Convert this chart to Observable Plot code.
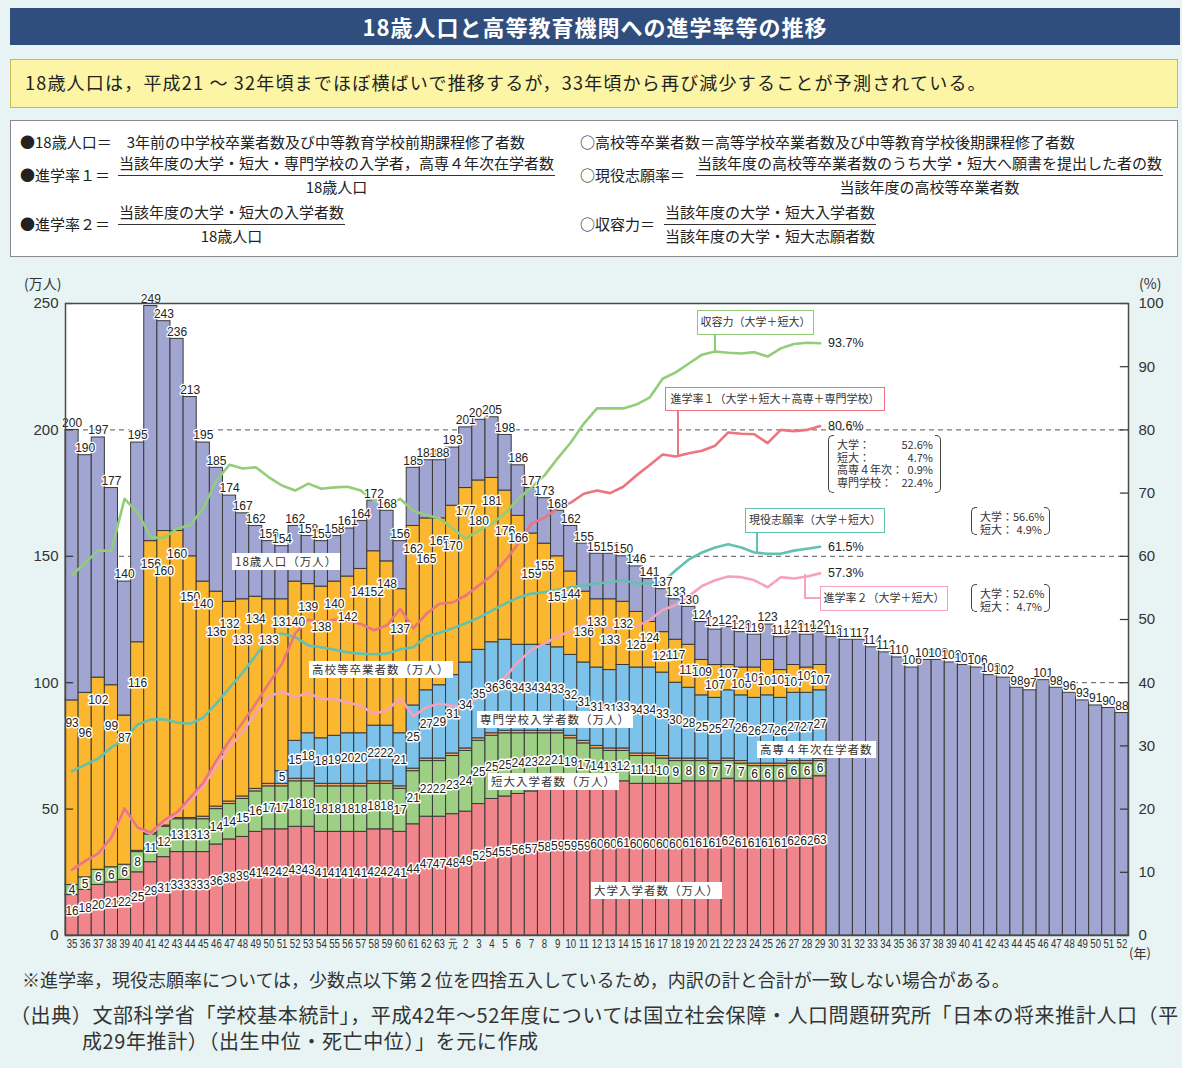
<!DOCTYPE html>
<html lang="ja"><head><meta charset="utf-8">
<script src="https://cdn.jsdelivr.net/npm/d3@7"></script>
<script src="https://cdn.jsdelivr.net/npm/@observablehq/plot@0.6"></script>
<style>
*{box-sizing:border-box}
html,body{margin:0;padding:0}
body{width:1182px;height:1068px;background:#e7f4f3;position:relative;overflow:hidden;font-family:"Noto Sans CJK JP","Noto Sans",sans-serif;color:#222}
.abs{position:absolute}
#title{left:10px;top:8px;width:1170px;height:37px;background:#2f4e7e;color:#fff;font-weight:bold;font-size:22px;text-align:center;line-height:37px;letter-spacing:1px}
#lead{left:10px;top:59px;width:1168px;height:49px;background:#fcf5a5;border:1.5px solid #c9b75a;font-size:18px;line-height:45px;padding-left:14px;letter-spacing:1.2px}
#defs{left:10px;top:120px;width:1168px;height:137px;background:#fff;border:1px solid #8a8a8a}
.d{position:absolute;font-size:15px;white-space:nowrap;line-height:20px}
.frac{position:absolute;display:flex;flex-direction:column;align-items:center;font-size:15px;white-space:nowrap;line-height:20px}
.frac .n{border-bottom:1px solid #333;padding:0 1px 2px}
.frac .m{padding-top:1px}
#chart{left:0;top:262px}
.box{position:absolute;background:#fff;border:1.6px solid;font-size:11px;text-align:center;line-height:21px;white-space:nowrap;color:#333}
.vl{position:absolute;width:1.6px}
.hl{position:absolute;height:1.6px}
.slab{position:absolute;background:#fff;font-size:11.5px;padding:0 3px;line-height:17px;letter-spacing:1px;white-space:nowrap;color:#333}
.brk{position:absolute;font-size:11px;line-height:12.5px;color:#333;padding:3px 8px 2px 9px}
.brk .l,.brk .r{position:absolute;top:0;bottom:0;width:6px;border:1.2px solid #444}
.brk .l{left:0;border-right:none;border-radius:5px 0 0 5px}
.brk .r{right:0;border-left:none;border-radius:0 5px 5px 0}
.brk .row{display:flex;justify-content:space-between;white-space:nowrap}
.ax{position:absolute;font-size:14px;color:#333;white-space:nowrap}
.foot{position:absolute;white-space:nowrap;color:#333}
</style></head>
<body>
<div id="title" class="abs">18歳人口と高等教育機関への進学率等の推移</div>
<div id="lead" class="abs">18歳人口は，平成21 ～ 32年頃までほぼ横ばいで推移するが，33年頃から再び減少することが予測されている。</div>
<div id="defs" class="abs"></div>
<div class="d" style="left:20px;top:132px">●18歳人口＝　3年前の中学校卒業者数及び中等教育学校前期課程修了者数</div>
<div class="d" style="left:580px;top:132px">○高校等卒業者数＝高等学校卒業者数及び中等教育学校後期課程修了者数</div>
<div class="d" style="left:20px;top:165px">●進学率１＝</div>
<div class="frac" style="left:118px;top:153px"><div class="n">当該年度の大学・短大・専門学校の入学者，高専４年次在学者数</div><div class="m">18歳人口</div></div>
<div class="d" style="left:580px;top:165px">○現役志願率＝</div>
<div class="frac" style="left:696px;top:153px"><div class="n">当該年度の高校等卒業者数のうち大学・短大へ願書を提出した者の数</div><div class="m">当該年度の高校等卒業者数</div></div>
<div class="d" style="left:20px;top:214px">●進学率２＝</div>
<div class="frac" style="left:118px;top:202px"><div class="n">当該年度の大学・短大の入学者数</div><div class="m">18歳人口</div></div>
<div class="d" style="left:580px;top:214px">○収容力＝</div>
<div class="frac" style="left:664px;top:202px"><div class="n">当該年度の大学・短大入学者数</div><div class="m">当該年度の大学・短大志願者数</div></div>

<div id="chart" class="abs"></div>

<div class="ax" style="left:24px;top:273px">(万人)</div>
<div class="ax" style="left:1139px;top:273px">(%)</div>
<div class="ax" style="left:1129px;top:943px;font-size:13px">(年)</div>

<div class="slab" style="left:232px;top:553px">18歳人口（万人）</div>
<div class="slab" style="left:309px;top:661px">高校等卒業者数（万人）</div>
<div class="slab" style="left:477px;top:711px">専門学校入学者数（万人）</div>
<div class="slab" style="left:488px;top:773px">短大入学者数（万人）</div>
<div class="slab" style="left:757px;top:741px">高専４年次在学者数</div>
<div class="slab" style="left:591px;top:882px">大学入学者数（万人）</div>

<div class="box" style="left:697px;top:310px;width:117px;height:25px;border-color:#8fcb77">収容力（大学＋短大）</div>
<div class="vl" style="left:714px;top:335px;height:16px;background:#8fcb77"></div>
<div class="box" style="left:665px;top:387px;width:220px;height:24px;border-color:#ec7580">進学率１（大学＋短大＋高専＋専門学校）</div>
<div class="vl" style="left:677px;top:411px;height:44px;background:#ec7580"></div>
<div class="brk" style="left:828px;top:435px;width:113px;height:58px"><div class="l"></div><div class="r"></div>
<div class="row"><span>大学：</span><span>52.6%</span></div>
<div class="row"><span>短大：</span><span>4.7%</span></div>
<div class="row"><span>高専４年次：</span><span>0.9%</span></div>
<div class="row"><span>専門学校：</span><span>22.4%</span></div></div>
<div class="box" style="left:745px;top:508px;width:140px;height:25px;border-color:#63c1ae">現役志願率（大学＋短大）</div>
<div class="vl" style="left:756px;top:533px;height:19px;background:#63c1ae"></div>
<div class="brk" style="left:971px;top:507px;width:79px;height:28px"><div class="l"></div><div class="r"></div>
<div class="row"><span>大学：</span><span>56.6%</span></div>
<div class="row"><span>短大：</span><span>4.9%</span></div></div>
<div class="box" style="left:820px;top:586px;width:128px;height:25px;border-color:#f5a3bb">進学率２（大学＋短大）</div>
<div class="vl" style="left:804px;top:574px;height:24px;background:#f5a3bb"></div>
<div class="hl" style="left:804px;top:597px;width:17px;background:#f5a3bb"></div>
<div class="brk" style="left:971px;top:584px;width:79px;height:28px"><div class="l"></div><div class="r"></div>
<div class="row"><span>大学：</span><span>52.6%</span></div>
<div class="row"><span>短大：</span><span>4.7%</span></div></div>

<div class="foot" style="left:22px;top:966px;font-size:18px">※進学率，現役志願率については，少数点以下第２位を四捨五入しているため，内訳の計と合計が一致しない場合がある。</div>
<div class="foot" style="left:10px;top:1000px;font-size:20px;letter-spacing:0.6px">（出典）文部科学省「学校基本統計」，平成42年～52年度については国立社会保障・人口問題研究所「日本の将来推計人口（平</div>
<div class="foot" style="left:82px;top:1026px;font-size:20px;letter-spacing:0.6px">成29年推計）（出生中位・死亡中位）」を元に作成</div>

<script>
// ---- tick labels (years: 昭和35–63, 平成元–29, 推計 30–52) ----
const xLabels = ["35","36","37","38","39","40","41","42","43","44","45","46","47","48","49","50","51","52","53","54","55","56","57","58","59","60","61","62","63","元","2","3","4","5","6","7","8","9","10","11","12","13","14","15","16","17","18","19","20","21","22","23","24","25","26","27","28","29","30","31","32","33","34","35","36","37","38","39","40","41","42","43","44","45","46","47","48","49","50","51","52"];
const leftTicks = [0,50,100,150,200,250];
const rightTicks = [0,10,20,30,40,50,60,70,80,90,100];
const gridLines = [50,100,150,200];

// ---- 18歳人口（万人） ----
const pop18 = [200,190,197,177,140,195,249,243,236,213,195,185,174,167,162,156,154,162,158,156,158,161,164,172,168,156,185,188,188,
193,201,204,205,198,186,177,173,168,162,155,151,151,150,146,141,137,133,130,124,121,122,120,119,123,118,120,119,120,
118,117,117,114,112,110,106,109,109,108,107,106,103,102,98,97,101,98,96,93,91,90,88];
// ---- 高校等卒業者数（万人） ----
const grads = [93,96,102,99,87,116,156,160,160,150,140,136,132,133,134,133,133,140,139,138,140,142,145,152,148,137,162,165,165,
170,177,180,181,176,166,159,155,150,144,136,133,133,132,128,124,120,117,115,109,107,107,106,106,109,105,107,106,107];
// ---- 大学入学者数（万人） ----
const univ = [16,18,20,21,22,25,29,31,33,33,33,36,38,39,41,42,42,43,43,41,41,41,41,42,42,41,44,47,47,
48,49,52,54,55,56,57,58,59,59,59,60,60,61,60,60,60,60,61,61,61,62,61,61,61,61,62,62,63];
// ---- 短大入学者数（万人） ----
const juniorCollege = [4,5,6,6,6,8,11,12,13,13,13,14,14,15,16,17,17,18,18,18,18,18,18,18,18,17,21,22,22,
23,24,25,25,25,24,23,22,21,19,17,14,13,12,11,11,10,9,8,8,7,7,7,6,6,6,6,6,6];
// ---- 高専4年次在学者数（万人, 推定） ----
const kosen4 = [0,0,0,0,0,0.5,0.5,0.5,0.5,0.5,1,1,1,1,1,1,1,1,1,1,1,1,1,1,1,1,1,1,1,
1,1,1,1,1,1,1,1,1,1,1,1,1,1,1,1,1,1,1,1,1,1,1,1,1,1,1,1,1];
// ---- 専門学校入学者数（万人） ----
const senmon = [0,0,0,0,0,0,0,0,0,0,0,0,0,0,0,0,5,15,18,18,19,20,20,22,22,21,25,27,29,
31,34,35,36,36,34,34,34,33,32,31,31,31,33,34,34,33,30,28,25,25,27,26,26,27,26,27,27,27];
// ---- 率（%） ----
const rateCapacity = [57.0,59.0,60.9,60.9,69.1,66.9,63.0,62.9,64.4,64.9,67.6,72.0,74.5,73.9,74.1,72.5,71.2,70.4,71.5,70.7,70.9,71.0,70.4,68.8,68.0,69.1,67.2,66.5,66.0,
64.4,62.8,64.1,65.2,66.8,69.1,70.9,72.8,75.5,78.0,81.0,83.4,83.4,83.4,84.0,85.1,88.1,89.1,90.5,91.9,92.4,92.2,92.1,92.3,91.6,92.9,93.6,93.8,93.7];
const rate1 = [10.4,11.8,13.0,15.5,20.1,17.1,16.3,18.2,19.5,21.8,24.2,27.7,30.9,33.7,36.7,39.9,43.0,47.8,50.0,49.5,50.0,49.8,49.3,48.3,49.1,51.7,48.6,50.9,52.5,
52.7,53.8,55.4,57.0,59.3,62.0,65.2,66.1,67.6,68.5,69.9,70.4,70.0,71.0,72.8,74.4,76.1,75.8,76.3,76.7,77.5,79.6,79.4,79.3,77.9,80.0,79.8,80.0,80.6];
const rate2 = [10.3,11.8,12.8,15.4,19.9,17.0,16.1,17.9,19.2,21.4,23.6,26.8,29.8,32.2,35.2,37.8,38.6,37.7,38.4,37.4,37.4,36.9,36.3,35.1,35.6,37.6,34.7,36.1,36.7,
36.3,36.3,37.7,38.9,40.9,43.3,45.2,46.2,47.3,48.2,49.1,49.1,48.6,48.6,49.0,49.9,51.5,52.3,53.7,55.3,56.2,56.8,56.7,56.2,55.1,56.7,56.5,56.8,57.3];
const applyRate = [26.0,27.0,28.0,29.8,31.0,33.4,34.2,34.2,33.7,33.5,34.5,36.7,39.2,41.6,44.3,47.2,47.8,47.2,45.9,45.6,45.2,44.8,44.6,44.5,44.6,45.3,45.6,47.3,47.9,
48.6,49.4,50.3,51.4,52.5,53.5,54.1,54.3,54.7,55.1,55.4,55.7,55.9,56.2,55.7,55.7,55.9,57.8,59.5,60.6,61.4,61.9,61.4,60.6,60.4,60.4,60.9,61.2,61.5];

const layerNames = ["大学入学者","短大入学者","高専4年次在学者","専門学校入学者","その他の高校等卒業者","その他の18歳人口"];
const layerColors = ["#f0858c","#9dcf84","#f6a866","#7cc2ea","#fbb730","#a0a5d2"];

const PCT = 2.5; // 100% ↔ 250万人
const idx = d3.range(xLabels.length);
const nHist = grads.length;

const segs = [];
idx.forEach(i => {
  if (i < nHist) {
    const below = univ[i] + juniorCollege[i] + kosen4[i] + senmon[i];
    const parts = [univ[i], juniorCollege[i], kosen4[i], senmon[i], grads[i] - below, pop18[i] - grads[i]];
    parts.forEach((v, k) => { if (v > 0) segs.push({i, layer: layerNames[k], v}); });
  } else {
    segs.push({i, layer: layerNames[5], v: pop18[i]});
  }
});

const labels = [];
for (let i = 0; i < nHist; i++) {
  labels.push({i, y: univ[i] * 0.6, t: univ[i]});
  labels.push({i, y: univ[i] + juniorCollege[i] / 2, t: juniorCollege[i]});
  if (senmon[i] > 0) labels.push({i, y: univ[i] + juniorCollege[i] + kosen4[i] + senmon[i] / 2, t: senmon[i]});
  const below = univ[i] + juniorCollege[i] + kosen4[i] + senmon[i];
  const stagger = i % 2 ? 16 : 9; // alternate depth so neighbouring 3-digit labels do not collide
  labels.push({i, y: grads[i] - Math.min(stagger, (grads[i] - below) * (i % 2 ? 0.6 : 0.35)), t: grads[i]});
}
const popLabels = idx.map(i => ({i, y: pop18[i], t: pop18[i]}));

const series = [
  {values: rate2, color: "#f5a3bb"},
  {values: applyRate, color: "#63c1ae"},
  {values: rateCapacity, color: "#93cd78"},
  {values: rate1, color: "#ec7580"}
];
const lineMarks = series.map(s => Plot.line(s.values.map((v, i) => ({i, v})), {x: "i", y: d => d.v * PCT, stroke: s.color, strokeWidth: 2.6, strokeLinejoin: "round"}));
const endLabels = series.map(s => ({i: nHist - 1, v: s.values[nHist - 1]}));

const numFont = '"Liberation Sans",Arial,Helvetica,sans-serif';

const chart = Plot.plot({
  width: 1182, height: 700,
  marginLeft: 65, marginRight: 54, marginTop: 41, marginBottom: 27,
  style: {background: "transparent", fontFamily: numFont, fontSize: "12px", color: "#333", overflow: "visible"},
  x: {type: "band", domain: idx, padding: 0, round: false},
  y: {domain: [0, 250]},
  color: {domain: layerNames, range: layerColors},
  marks: [
    Plot.frame({fill: "white", stroke: "none"}),
    Plot.ruleY(gridLines, {stroke: "#555", strokeDasharray: "5,4", strokeWidth: 1}),
    Plot.barY(segs, {x: "i", y: "v", fill: "layer", stroke: "#3a3a3a", strokeWidth: 1}),
    ...lineMarks,
    Plot.text(labels, {x: "i", y: "y", text: d => String(d.t), fontSize: 12, fill: "#222", stroke: "white", strokeWidth: 3, strokeLinejoin: "round", ariaLabel: "boxed-label"}),
    Plot.text(popLabels, {x: "i", y: "y", text: d => String(d.t), dy: -7, fontSize: 12, fill: "#222", stroke: "white", strokeWidth: 2.5, strokeLinejoin: "round", ariaLabel: "top-label"}),
    Plot.text(endLabels, {x: "i", y: d => d.v * PCT, text: d => d.v.toFixed(1) + "%", dx: 8, textAnchor: "start", fontSize: 12.5, fill: "#222"}),
    Plot.tickY(leftTicks, {x: () => 0, y: d => d, insetRight: 5, stroke: "#333", strokeWidth: 1.2}),
    Plot.tickY(rightTicks.map(t => t * PCT), {x: () => xLabels.length - 1, y: d => d, insetLeft: 5, stroke: "#333", strokeWidth: 1.2}),
    Plot.frame({stroke: "#4a4a4a", strokeWidth: 1.5}),
    Plot.axisX({tickSize: 0, tickPadding: 4, tickFormat: i => xLabels[i], fontSize: 12, label: null}),
    Plot.axisY({anchor: "left", ticks: leftTicks, tickSize: 0, tickPadding: 7, fontSize: 15, label: null}),
    Plot.axisY({anchor: "right", ticks: rightTicks.map(t => t * PCT), tickFormat: d => String(d / PCT), tickSize: 0, tickPadding: 10, fontSize: 15, label: null})
  ]
});
document.getElementById("chart").appendChild(chart);

// halo drawn behind glyphs; boxed labels get a thin grey rim like the reference
chart.querySelectorAll('g[aria-label="boxed-label"], g[aria-label="top-label"]').forEach(g => {
  g.setAttribute("paint-order", "stroke");
  g.querySelectorAll("text").forEach(t => t.setAttribute("paint-order", "stroke"));
});
const boxed = chart.querySelector('g[aria-label="boxed-label"]');
if (boxed) boxed.style.filter = "drop-shadow(0 0 0.6px #555)";

// condensed numerals (the reference uses a narrow typeface)
chart.querySelectorAll('g[aria-label="boxed-label"] text, g[aria-label="top-label"] text').forEach(t => {
  const len = t.getComputedTextLength();
  if (len > 0) {
    t.setAttribute("textLength", (len * 0.74).toFixed(2));
    t.setAttribute("lengthAdjust", "spacingAndGlyphs");
  }
});
chart.querySelectorAll('g[aria-label="x-axis tick label"] text').forEach(t => {
  const len = t.getComputedTextLength();
  if (len > 0) {
    t.setAttribute("textLength", (len * 0.8).toFixed(2));
    t.setAttribute("lengthAdjust", "spacingAndGlyphs");
  }
});
</script>
</body></html>
